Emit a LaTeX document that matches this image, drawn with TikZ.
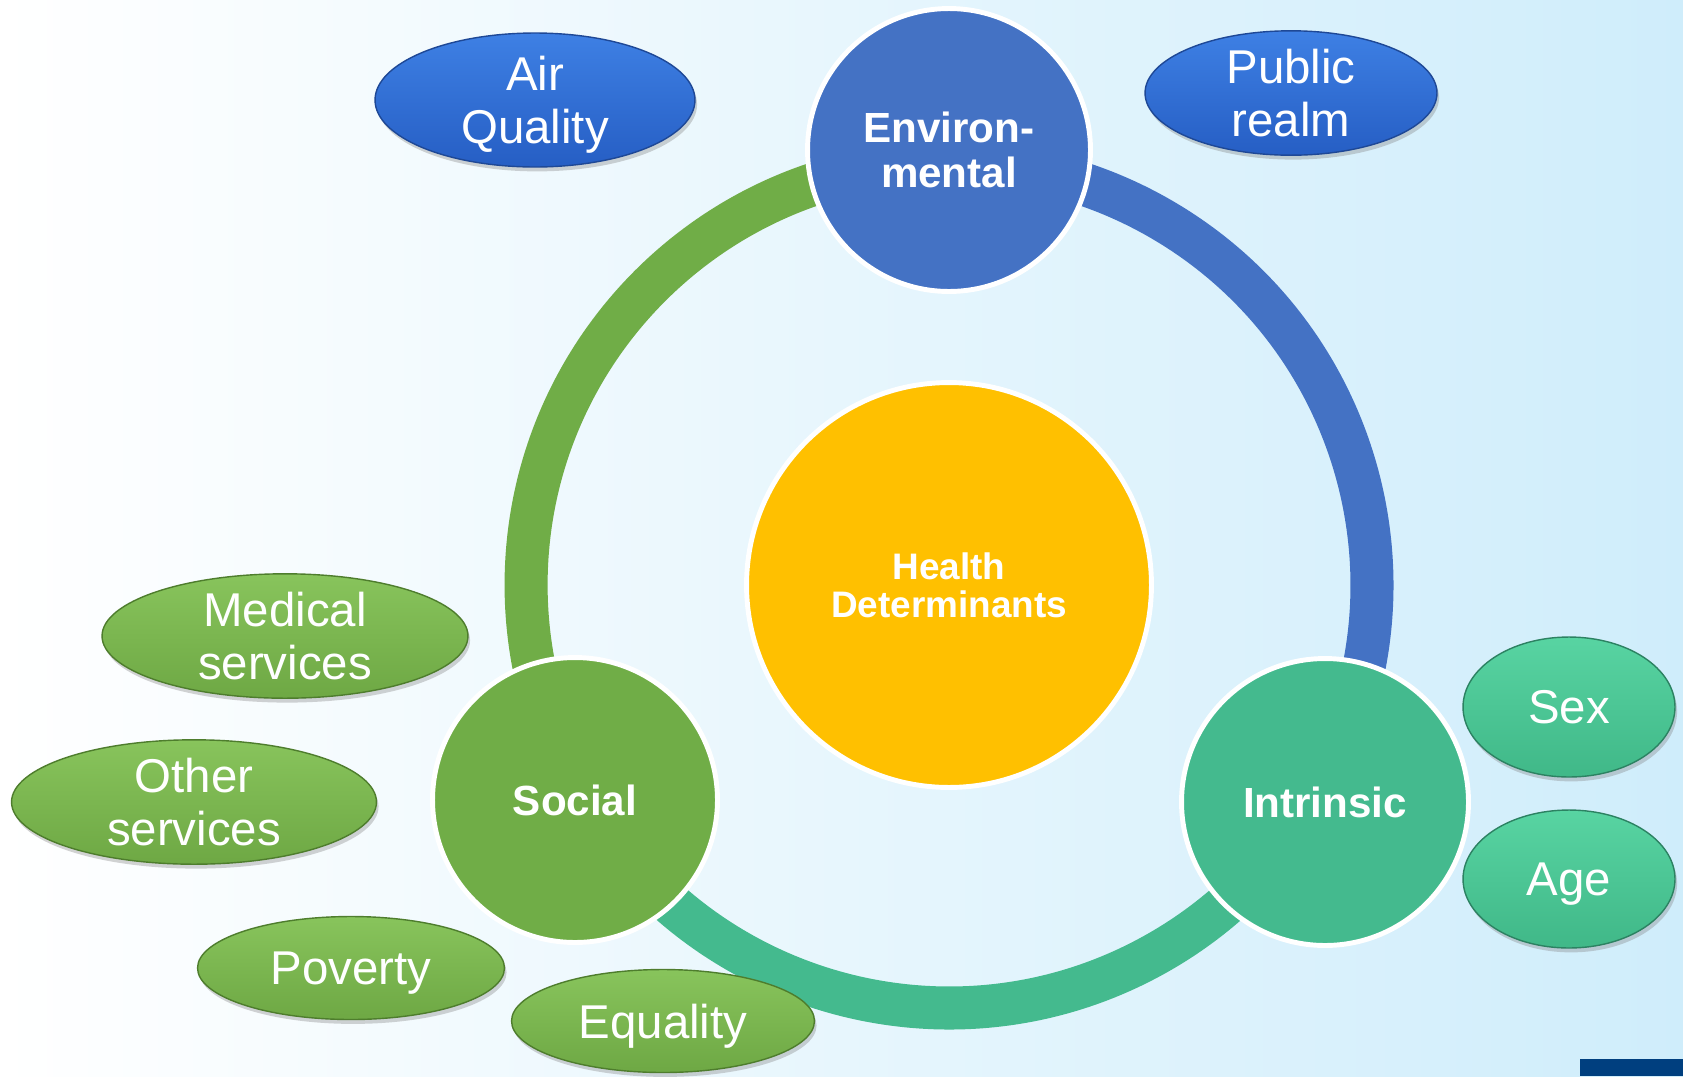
\documentclass[tikz,border=0pt]{standalone}
\usepackage{fontspec}
\setmainfont{Liberation Sans}
\usetikzlibrary{shapes.geometric,shadows}
\definecolor{envblue}{RGB}{68,114,196}
\definecolor{socgreen}{RGB}{112,173,71}
\definecolor{intteal}{RGB}{68,186,142}
\definecolor{hdyellow}{RGB}{255,192,0}
\definecolor{bgright}{RGB}{207,237,251}
\definecolor{navyblock}{RGB}{0,63,127}
\definecolor{pbtop}{RGB}{62,128,228}
\definecolor{pbbot}{RGB}{38,94,196}
\definecolor{pbline}{RGB}{30,72,150}
\definecolor{pgtop}{RGB}{136,196,92}
\definecolor{pgbot}{RGB}{110,168,68}
\definecolor{pgline}{RGB}{78,125,45}
\definecolor{pttop}{RGB}{88,212,162}
\definecolor{ptbot}{RGB}{64,184,136}
\definecolor{ptline}{RGB}{44,130,98}
\begin{document}
\begin{tikzpicture}[x=0.02cm,y=0.02cm,
  ring/.style={line width=24.5pt},
  bigc/.style={circle, draw=white, line width=2.8pt, inner sep=0pt, text=white,
    font=\bfseries\fontsize{24}{25.6}\selectfont, align=center},
  pill/.style={ellipse, inner sep=0pt, text=white, line width=0.8pt, text depth=0pt,
    font=\fontsize{27}{30.5}\selectfont, align=center,
    drop shadow={opacity=0.35,shadow xshift=1.2pt,shadow yshift=-2.5pt}},
  bluepill/.style={pill, draw=pbline, top color=pbtop, bottom color=pbbot},
  greenpill/.style={pill, draw=pgline, top color=pgtop, bottom color=pgbot},
  tealpill/.style={pill, draw=ptline, top color=pttop, bottom color=ptbot}
]
\useasboundingbox (0,0) rectangle (1683,-1076);
\fill[left color=white, right color=bgright] (0,0) rectangle (1683,-1076);
\fill[navyblock] (1580,-1059) rectangle (1683,-1076);

% centre
\node[bigc, fill=hdyellow, minimum size=8.1cm,
  font=\bfseries\fontsize{21}{21.5}\selectfont] (hd) at (949,-585) {Health\\Determinants};

% ring
\draw[ring, socgreen] (hd.center) ++(90:8.46cm) arc[start angle=90, end angle=210, radius=8.46cm];
\draw[ring, envblue] (hd.center) ++(-30:8.46cm) arc[start angle=-30, end angle=90, radius=8.46cm];
\draw[ring, intteal] (hd.center) ++(210:8.46cm) arc[start angle=210, end angle=330, radius=8.46cm];

% category circles
\node[bigc, fill=envblue, minimum size=5.66cm] (env) at (949,-150) {Environ-\\mental};
\node[bigc, fill=socgreen, minimum size=5.7cm] (soc) at (575,-800) {Social};
\node[bigc, fill=intteal, minimum size=5.74cm] (intr) at (1325,-802) {Intrinsic};

% ellipses
\node[bluepill, minimum width=6.4cm, minimum height=2.68cm] (air) at (535,-100) {Air\\Quality};
\node[bluepill, minimum width=5.84cm, minimum height=2.42cm] (pub) at (1291,-93) {Public\\realm};
\node[greenpill, minimum width=7.32cm, minimum height=2.44cm] (med) at (285,-636) {Medical\\services};
\node[greenpill, minimum width=7.3cm, minimum height=2.4cm] (oth) at (194,-802) {Other\\services};
\node[greenpill, minimum width=6.14cm, minimum height=2.06cm] (pov) at (351,-968) {Poverty};
\node[greenpill, minimum width=6.06cm, minimum height=2.06cm] (equ) at (663,-1021) {Equality};
\node[tealpill, minimum width=4.24cm, minimum height=2.8cm] (sex) at (1569,-707) {Sex};
\node[tealpill, minimum width=4.24cm, minimum height=2.76cm] (age) at (1569,-879) {Age};
\end{tikzpicture}
\end{document}
